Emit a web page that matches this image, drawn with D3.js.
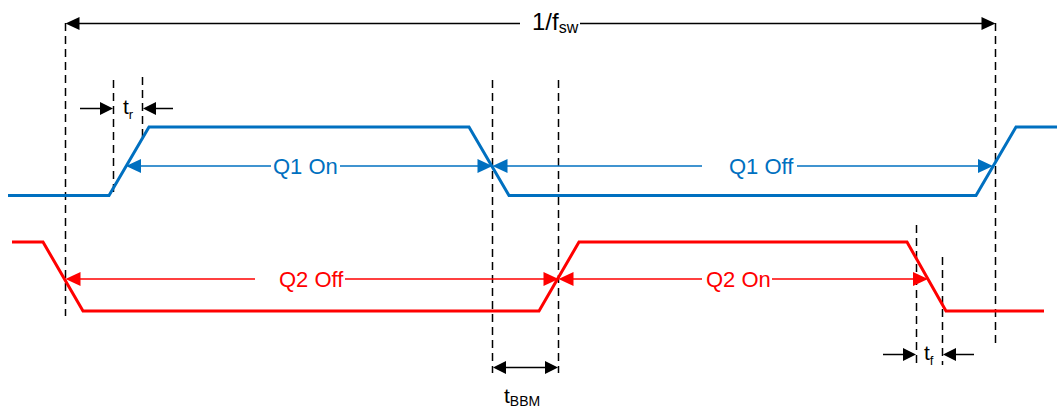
<!DOCTYPE html>
<html><head><meta charset="utf-8">
<script src="https://cdn.jsdelivr.net/npm/d3@7"></script>
<style>html,body{margin:0;padding:0;background:#fff;}svg{display:block;font-family:"Liberation Sans",Arial,sans-serif;}</style>
</head><body><div id="chart"></div>
<script>
// ---- data (time in arbitrary units, levels 0 = low, 1 = high) ----
const q1Times  = [8, 109, 149, 469, 509, 976, 1016, 1057];
const q1Levels = [0, 0, 1, 1, 0, 0, 1, 1];
const q2Times  = [12, 43, 83, 539, 579, 907, 946, 1044];
const q2Levels = [1, 1, 0, 0, 1, 1, 0, 0];
// event markers (dashed verticals)
const markerNames = ["periodStart", "trStart", "trEnd", "bbmStart", "bbmEnd", "tfStart", "tfEnd", "periodEnd"];
const markerTimes = [65, 113, 142, 492, 558, 916, 942, 995];
// labels
const periodLabel = ["1/f", "sw"];
const stateLabels = ["Q1 On", "Q1 Off", "Q2 Off", "Q2 On"];
const riseLabel = ["t", "r"];
const fallLabel = ["t", "f"];
const bbmLabel = ["t", "BBM"];

// ---- layout ----
const W = 1057, H = 410;
const BLUE = "#0070C0", RED = "#FF0000", BLACK = "#000";
const x = d3.scaleLinear().domain([0, 1057]).range([0, W]);
const yQ1 = d3.scaleLinear().domain([0, 1]).range([195.5, 127]);
const yQ2 = d3.scaleLinear().domain([0, 1]).range([311, 242]);
const M = {}; markerNames.forEach((n, i) => M[n] = markerTimes[i]);

const svg = d3.select("#chart").append("svg").attr("width", W).attr("height", H);

// dashed marker lines
const dashSpec = [
  ["periodStart", 23, 316], ["trStart", 80, 195], ["trEnd", 77, 138],
  ["bbmStart", 80, 373], ["bbmEnd", 80, 373], ["tfStart", 225, 366],
  ["tfEnd", 257, 365], ["periodEnd", 23, 344]
];
svg.append("g").selectAll("line").data(dashSpec).join("line")
  .attr("x1", d => x(M[d[0]]) + 0.5).attr("x2", d => x(M[d[0]]) + 0.5)
  .attr("y1", d => d[1]).attr("y2", d => d[2])
  .attr("stroke", BLACK).attr("stroke-width", 1.5).attr("stroke-dasharray", "8,5");

// waveforms
const line1 = d3.line().x((d, i) => x(q1Times[i])).y(d => yQ1(d));
const line2 = d3.line().x((d, i) => x(q2Times[i])).y(d => yQ2(d));
svg.append("path").attr("d", line1(q1Levels)).attr("fill", "none")
  .attr("stroke", BLUE).attr("stroke-width", 3);
svg.append("path").attr("d", line2(q2Levels)).attr("fill", "none")
  .attr("stroke", RED).attr("stroke-width", 3);

// helpers
function head(g, tipX, y, dir, color, len = 14, hw = 6.5) {
  g.append("path")
    .attr("d", `M${tipX},${y}L${tipX - dir * len},${y - hw}L${tipX - dir * len},${y + hw}Z`)
    .attr("fill", color);
}
function seg(g, x1, x2, y, color, w = 1.5) {
  g.append("line").attr("x1", x1).attr("x2", x2).attr("y1", y).attr("y2", y)
    .attr("stroke", color).attr("stroke-width", w);
}
function subText(g, xPos, y, parts, size, subSize, color, subDy) {
  const t = g.append("text").attr("x", xPos).attr("y", y).attr("fill", color)
    .attr("font-size", size);
  t.append("tspan").text(parts[0]);
  t.append("tspan").attr("font-size", subSize).attr("dy", subDy).text(parts[1]);
  return t;
}

const g = svg.append("g");

// period arrow
const py = 23.5;
seg(g, x(M.periodStart) + 10, 520, py, BLACK, 1.5);
seg(g, 580, x(M.periodEnd) - 10, py, BLACK, 1.5);
head(g, x(M.periodStart) + 0.5, py, -1, BLACK);
head(g, x(M.periodEnd) + 0.5, py, 1, BLACK);
subText(g, 532, 29.5, periodLabel, 24, 16, BLACK, 3);

// rise time arrows
const ry = 108.5;
seg(g, 80, x(M.trStart) - 8, ry, BLACK);
head(g, x(M.trStart), ry, 1, BLACK, 13, 6.5);
seg(g, x(M.trEnd) + 8, 173, ry, BLACK);
head(g, x(M.trEnd) + 1, ry, -1, BLACK, 13, 6.5);
subText(g, 123, 114, riseLabel, 21, 13, BLACK, 5);

// fall time arrows
const fy = 354.5;
seg(g, 883, x(M.tfStart) - 8, fy, BLACK);
head(g, x(M.tfStart), fy, 1, BLACK, 13, 6.5);
seg(g, x(M.tfEnd) + 8, 974, fy, BLACK);
head(g, x(M.tfEnd) + 1, fy, -1, BLACK, 13, 6.5);
subText(g, 924, 360, fallLabel, 21, 13, BLACK, 5);

// break-before-make arrow
const by = 367.5;
seg(g, x(M.bbmStart) + 8, x(M.bbmEnd) - 8, by, BLACK);
head(g, x(M.bbmStart) + 1, by, -1, BLACK, 13, 6.5);
head(g, x(M.bbmEnd), by, 1, BLACK, 13, 6.5);
subText(g, 504, 403, bbmLabel, 21, 14, BLACK, 3);

// state arrows
const q1y = 166, q2y = 279;
function stateArrow(left, right, y, color, label, textX, gapL, gapR) {
  seg(g, left + 8, gapL, y, color);
  seg(g, gapR, right - 8, y, color);
  head(g, left, y, -1, color, 15, 7);
  head(g, right, y, 1, color, 15, 7);
  g.append("text").attr("x", textX).attr("y", y + 7.5).attr("fill", color)
    .attr("font-size", 22).text(label);
}
stateArrow(126, x(M.bbmStart) + 0.5, q1y, BLUE, stateLabels[0], 273, 271, 340);
stateArrow(x(M.bbmStart) + 0.5, 993, q1y, BLUE, stateLabels[1], 729, 702, 797);
stateArrow(x(M.periodStart) + 0.5, x(M.bbmEnd) + 0.5, q2y, RED, stateLabels[2], 279, 255, 345);
stateArrow(x(M.bbmEnd) + 0.5, 928, q2y, RED, stateLabels[3], 706, 702, 772);
</script></body></html>
